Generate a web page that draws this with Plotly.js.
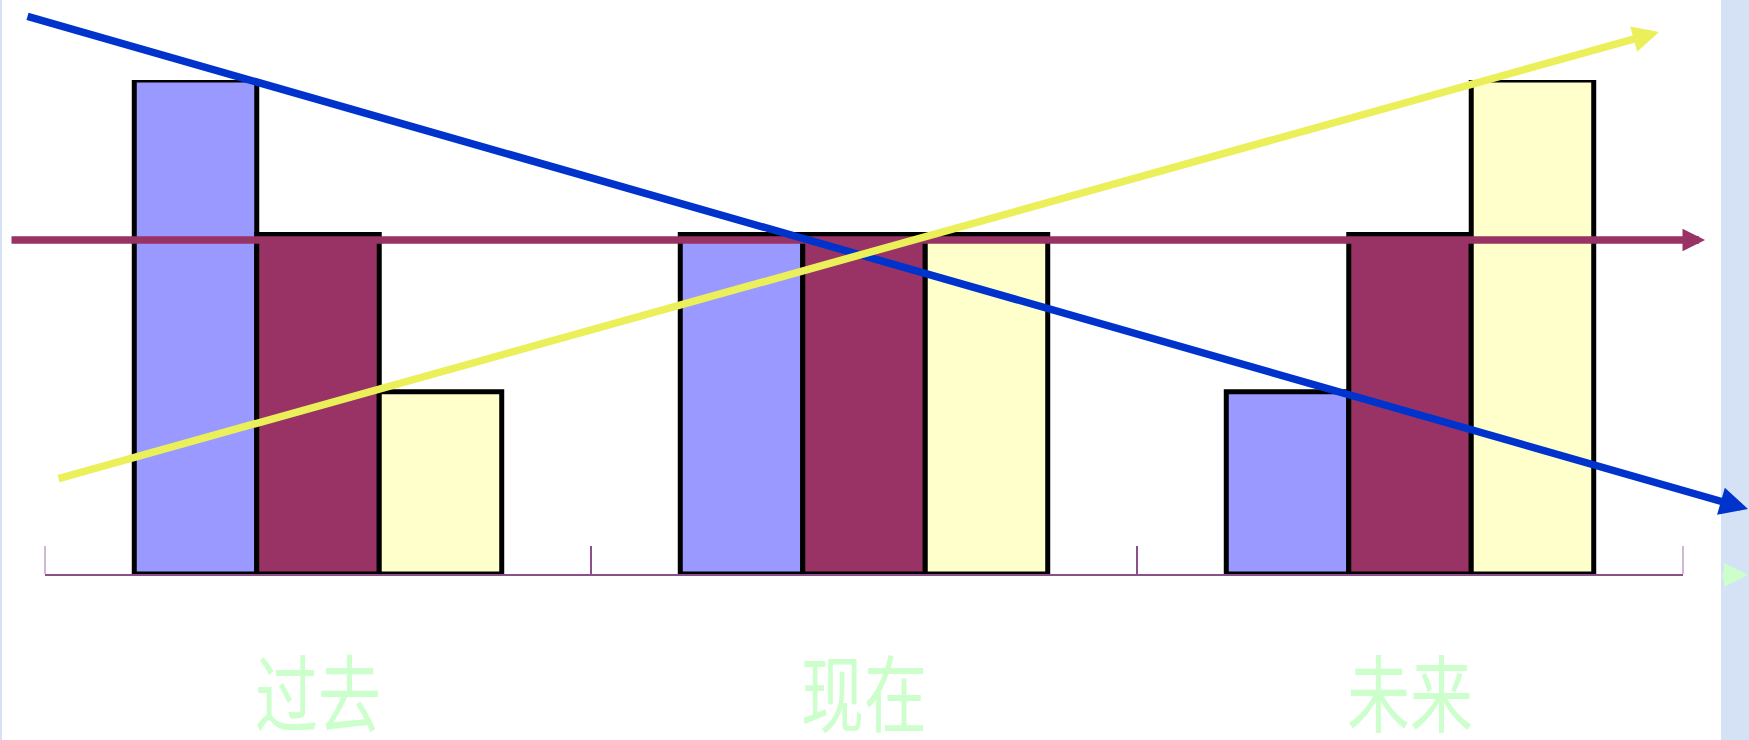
<!DOCTYPE html>
<html>
<head>
<meta charset="utf-8">
<script src="https://cdn.plot.ly/plotly-3.0.1.min.js"></script>
<style>html,body{margin:0;padding:0;background:#fff;}#chart{width:1749px;height:740px;}</style>
</head>
<body>
<div id="chart"></div>
<script>
// ---- data ----
const categories = ['过去', '现在', '未来'];
const seriesA = [3.2, 2.2, 1.18];   // blue bars
const seriesB = [2.2, 2.2, 2.2];    // purple bars
const seriesC = [1.18, 2.2, 3.2];   // yellow bars

const barColors = ['#9999ff', '#993366', '#ffffcc'];
const seriesList = [seriesA, seriesB, seriesC];

const traces = seriesList.map((vals, i) => ({
  type: 'bar',
  x: categories,
  y: vals,
  marker: {color: barColors[i], line: {color: '#000000', width: 5}},
  cliponaxis: false,
  hoverinfo: 'skip'
}));

// plot area geometry (pixels) used to place decorative arrows
const W = 1749, H = 740;
const mL = 45, mR = 66, mT = 80, mB = 166;
const pw = W - mL - mR, ph = H - mT - mB;
const px = v => (v - mL) / pw;
const py = v => (H - mB - v) / ph;

function arrow(head, tail, color, width, size) {
  return {
    xref: 'paper', yref: 'paper', axref: 'pixel', ayref: 'pixel',
    x: px(head[0]), y: py(head[1]),
    ax: tail[0] - head[0], ay: tail[1] - head[1],
    text: '', showarrow: true, arrowhead: 2, arrowsize: size,
    arrowwidth: width, arrowcolor: color, standoff: 0, startstandoff: 0
  };
}

const annotations = [
  arrow([1705, 240], [10, 240], '#993366', 7.5, 0.6),
  arrow([1753, 509], [26, 16], '#0033cc', 7.5, 0.75),
  arrow([1659, 32], [57, 479], '#ebf05a', 7.5, 0.7),
  arrow([1752, 575], [1721, 575], '#ccffcc', 8, 0.6)
];

const axisCol = '#8b4f8b';
const shapes = [
  {type: 'rect', xref: 'paper', yref: 'paper', x0: px(1721), x1: px(1760), y0: py(750), y1: py(-10),
   fillcolor: '#d5e2f5', line: {width: 0}, layer: 'below'},
  {type: 'rect', xref: 'paper', yref: 'paper', x0: px(-5), x1: px(2), y0: py(750), y1: py(-10),
   fillcolor: '#d5e2f5', line: {width: 0}, layer: 'below'},
  {type: 'line', xref: 'paper', yref: 'paper', x0: 0, x1: 0, y0: 0, y1: py(546),
   line: {color: '#bfa3c3', width: 1.5}},
  {type: 'line', xref: 'paper', yref: 'paper', x0: 1, x1: 1, y0: 0, y1: py(546),
   line: {color: '#bfa3c3', width: 1.5}}
];

const layout = {
  width: W, height: H,
  margin: {l: mL, r: mR, t: mT, b: mB, pad: 0},
  paper_bgcolor: '#ffffff', plot_bgcolor: '#ffffff',
  showlegend: false,
  barmode: 'group', bargap: 0.327, bargroupgap: 0,
  xaxis: {
    type: 'category', showline: true, linecolor: axisCol, linewidth: 1.5,
    ticks: 'inside', tickson: 'boundaries', ticklen: 28, tickwidth: 1.5, tickcolor: axisCol,
    showgrid: false, zeroline: false, ticklabelstandoff: 66,
    tickfont: {family: '"Noto Sans CJK SC", sans-serif', size: 63, color: '#ccffcc'}
  },
  yaxis: {
    range: [0, 3.2], visible: false, showgrid: false, zeroline: false, fixedrange: true
  },
  annotations: annotations,
  shapes: shapes
};

Plotly.newPlot('chart', traces, layout, {displayModeBar: false, staticPlot: true}).then(gd => {
  // stretch the category labels vertically to mimic the tall Song-style glyphs
  gd.querySelectorAll('.xtick text').forEach(t => {
    const b = t.getBBox();
    const cy = b.y + b.height / 2;
    const orig = t.getAttribute('transform') || '';
    t.setAttribute('transform', orig + ' translate(0,' + cy + ') scale(1,1.33) translate(0,' + (-cy) + ')');
  });
});
</script>
</body>
</html>
